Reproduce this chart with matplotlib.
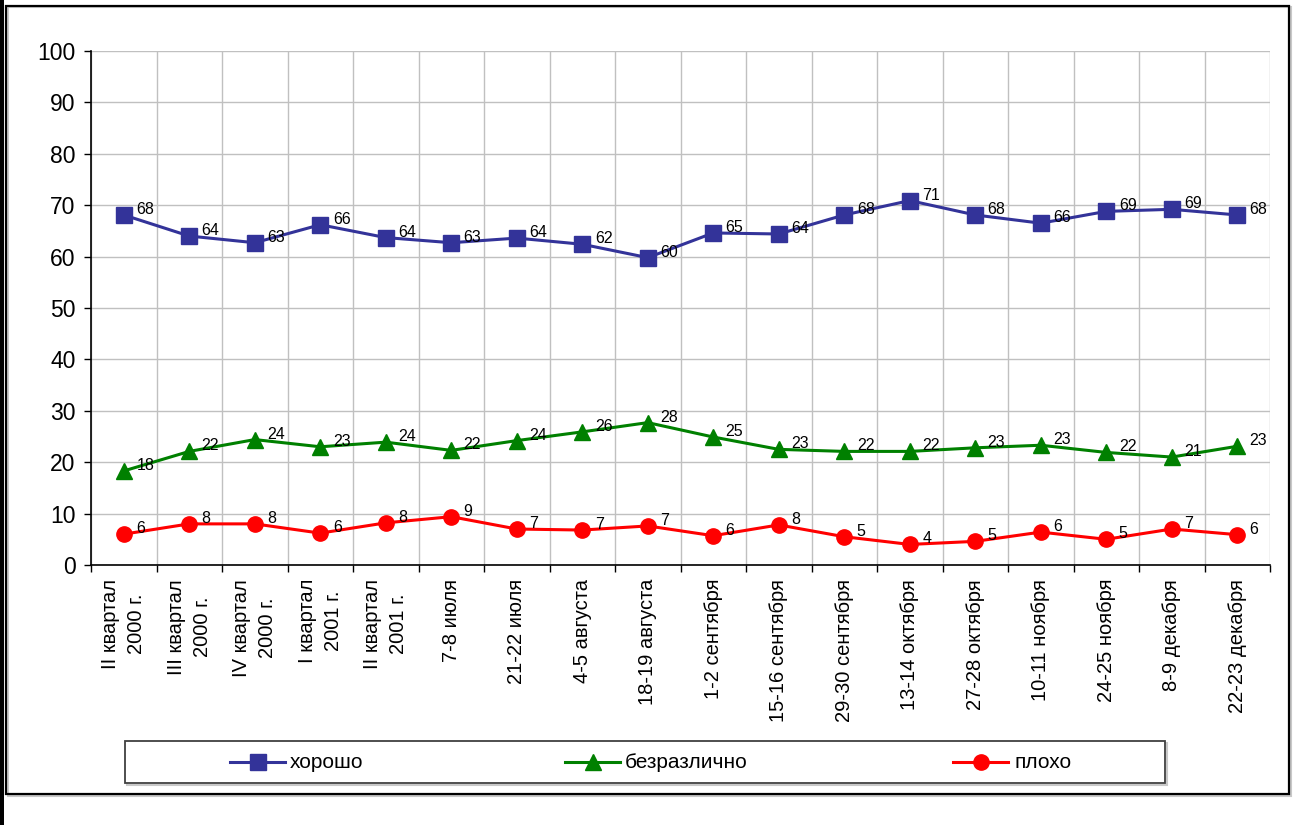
import matplotlib
matplotlib.use("Agg")
import matplotlib.pyplot as plt
from matplotlib.patches import Rectangle
from matplotlib.lines import Line2D

plt.rcParams['font.family'] = ['Liberation Sans', 'DejaVu Sans']

categories = [
    "II квартал\n2000 г.", "III квартал\n2000 г.", "IV квартал\n2000 г.",
    "I квартал\n2001 г.", "II квартал\n2001 г.", "7-8 июля", "21-22 июля",
    "4-5 августа", "18-19 августа", "1-2 сентября", "15-16 сентября",
    "29-30 сентября", "13-14 октября", "27-28 октября", "10-11 ноября",
    "24-25 ноября", "8-9 декабря", "22-23 декабря",
]

good = [68.1, 64.0, 62.7, 66.2, 63.7, 62.7, 63.6, 62.4, 59.8, 64.6, 64.4,
        68.1, 70.9, 68.1, 66.5, 68.8, 69.2, 68.1]
good_labels = ["68", "64", "63", "66", "64", "63", "64", "62", "60", "65", "64",
               "68", "71", "68", "66", "69", "69", "68"]

neutral = [18.3, 22.1, 24.4, 23.0, 23.9, 22.3, 24.2, 25.9, 27.7, 24.9, 22.5,
           22.1, 22.1, 22.8, 23.3, 21.9, 21.0, 23.1]
neutral_labels = ["18", "22", "24", "23", "24", "22", "24", "26", "28", "25", "23",
                  "22", "22", "23", "23", "22", "21", "23"]

bad = [6.0, 8.0, 8.0, 6.2, 8.2, 9.4, 7.0, 6.8, 7.6, 5.7, 7.8,
       5.5, 4.0, 4.6, 6.4, 5.0, 7.0, 5.9]
bad_labels = ["6", "8", "8", "6", "8", "9", "7", "7", "7", "6", "8",
              "5", "4", "5", "6", "5", "7", "6"]

series_names = ["хорошо", "безразлично", "плохо"]
yticks = [0, 10, 20, 30, 40, 50, 60, 70, 80, 90, 100]

W, H = 1310, 825
fig = plt.figure(figsize=(W / 100, H / 100), dpi=100)
fig.patch.set_facecolor("white")

# outer frame and left black band
fig.add_artist(Rectangle((0, 0), 4 / W, 1, transform=fig.transFigure,
                         facecolor="black", edgecolor="none"))
fig.add_artist(Rectangle((8 / W, (H - 796) / H), 1283 / W, 789 / H,
                         transform=fig.transFigure, facecolor="none",
                         edgecolor="#c8c8c8", lw=1.5))
fig.add_artist(Rectangle((6 / W, (H - 794) / H), 1283 / W, 788 / H,
                         transform=fig.transFigure, facecolor="none",
                         edgecolor="black", lw=1.6))

ax = fig.add_axes([91 / W, (H - 565) / H, (1270 - 91) / W, (565 - 51) / H])
x = list(range(len(categories)))

styles = [
    (good, good_labels, "#333399", "s", 11),
    (neutral, neutral_labels, "#008000", "^", 12),
    (bad, bad_labels, "#FF0000", "o", 11),
]
for vals, labs, col, mk, ms in styles:
    ax.plot(x, vals, color=col, lw=2.2, marker=mk, markersize=ms,
            markerfacecolor=col, markeredgecolor=col, zorder=3, clip_on=False)
    for xi, v, lab in zip(x, vals, labs):
        ax.annotate(lab, (xi, v), xytext=(9, 4), textcoords="offset points",
                    ha="left", va="center", fontsize=11.5, color="black", zorder=4)

ax.set_xlim(-0.5, len(categories) - 0.5)
ax.set_ylim(0, 100)
ax.set_yticks(yticks)
ax.set_yticklabels([str(t) for t in yticks], fontsize=16.5)
ax.set_xticks(x)
ax.set_xticklabels(categories, rotation=90, fontsize=14.5, ha="center",
                   va="top", multialignment="center", linespacing=1.45)
ax.tick_params(axis="x", length=0, pad=10)
ax.set_xticks([i - 0.5 for i in range(len(categories) + 1)], minor=True)
ax.tick_params(axis="x", which="minor", length=5, width=1, direction="out")
ax.tick_params(axis="y", length=5, width=1, direction="out", pad=6)

ax.grid(axis="y", which="major", color="#c0c0c0", lw=1)
ax.grid(axis="x", which="minor", color="#c0c0c0", lw=1)
ax.set_axisbelow(True)
for s in ["top", "right"]:
    ax.spines[s].set_visible(False)
for s in ["left", "bottom"]:
    ax.spines[s].set_color("black")
    ax.spines[s].set_linewidth(1.2)

# legend box
fig.add_artist(Rectangle((127 / W, (H - 785) / H), 1040 / W, 42 / H,
                         transform=fig.transFigure, facecolor="none",
                         edgecolor="#c8c8c8", lw=1.5))
fig.add_artist(Rectangle((125 / W, (H - 783) / H), 1040 / W, 42 / H,
                         transform=fig.transFigure, facecolor="white",
                         edgecolor="#404040", lw=1.3))
legend_x = [230, 565, 953]
text_x = [290, 625, 1015]
ly = (H - 762) / H
for (vals, labs, col, mk, ms), lx, tx, name in zip(styles, legend_x, text_x, series_names):
    fig.add_artist(Line2D([lx / W, (lx + 55) / W], [ly, ly], transform=fig.transFigure,
                          color=col, lw=2.2))
    fig.add_artist(Line2D([(lx + 27.5) / W], [ly], transform=fig.transFigure,
                          color=col, marker=mk, markersize=ms, markerfacecolor=col,
                          markeredgecolor=col))
    fig.text(tx / W, ly, name, fontsize=15, ha="left", va="center")

fig.savefig("out.png", dpi=100)
